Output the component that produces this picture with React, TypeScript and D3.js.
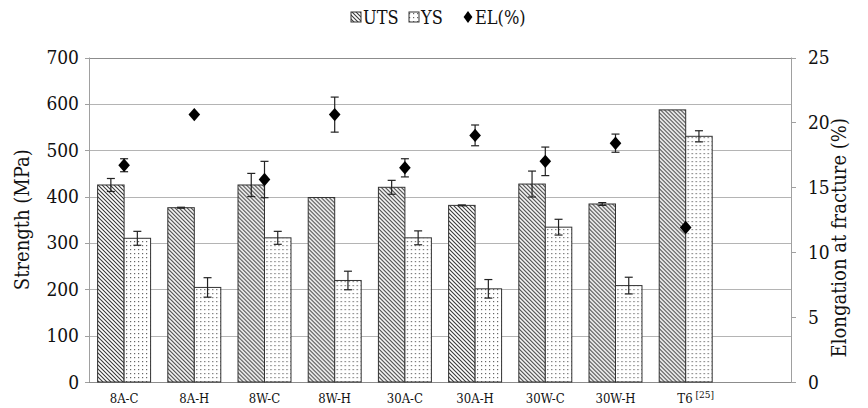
import React, { useEffect, useRef } from 'react';
import * as d3 from 'd3';

const categories = ['8A-C', '8A-H', '8W-C', '8W-H', '30A-C', '30A-H', '30W-C', '30W-H', 'T6'];
const utsValues = [425, 376, 425, 398, 420, 381, 427, 384, 587];
const utsErr = [14, 1, 25, 0, 15, 1, 28, 3, 0];
const ysValues = [310, 204, 311, 219, 311, 201, 334, 208, 530];
const ysErr = [15, 21, 14, 20, 15, 20, 17, 18, 12];
const elValues = [16.7, 20.6, 15.6, 20.6, 16.5, 19.0, 17.0, 18.4, 11.9];
const elErr = [0.5, 0, 1.4, 1.35, 0.7, 0.8, 1.1, 0.7, 0];
const leftTicks = [0, 100, 200, 300, 400, 500, 600, 700];
const rightTicks = [0, 5, 10, 15, 20, 25];

function App() {
  const svgRef = useRef(null);

  const width = 868;
  const height = 408;
  const left = 89;
  const right = 791;
  const top = 57.5;
  const bottom = 382;

  useEffect(() => {
    const svg = d3.select(svgRef.current);
    svg.selectAll('*').remove();

    const defs = svg.append('defs');
    const hatch = defs.append('pattern')
      .attr('id', 'hatch')
      .attr('patternUnits', 'userSpaceOnUse')
      .attr('width', 4)
      .attr('height', 4);
    hatch.append('rect').attr('width', 4).attr('height', 4).attr('fill', '#fff');
    hatch.append('path')
      .attr('d', 'M-1,-1 L5,5 M-1,3 L1,5 M3,-1 L5,1')
      .attr('stroke', '#3a3a3a')
      .attr('stroke-width', 1.1);

    const dots = defs.append('pattern')
      .attr('id', 'dots')
      .attr('patternUnits', 'userSpaceOnUse')
      .attr('width', 4)
      .attr('height', 4);
    dots.append('rect').attr('width', 4).attr('height', 4).attr('fill', '#fff');
    dots.append('rect').attr('x', 1).attr('y', 1).attr('width', 1.2).attr('height', 1.2).attr('fill', '#666');

    // slot for an empty tenth category, like the original
    const x = d3.scaleBand()
      .domain([...categories, ''])
      .range([left, right])
      .paddingInner(0)
      .paddingOuter(0);
    const xSub = d3.scaleBand()
      .domain(['UTS', 'YS'])
      .range([0, x.bandwidth()])
      .paddingInner(0)
      .paddingOuter(0.325);

    const y = d3.scaleLinear().domain([0, 700]).range([bottom, top]);
    const y2 = d3.scaleLinear().domain([0, 25]).range([bottom, top]);

    // gridlines
    svg.append('g')
      .selectAll('line')
      .data(leftTicks)
      .enter()
      .append('line')
      .attr('x1', left)
      .attr('x2', right)
      .attr('y1', d => Math.round(y(d)) + 0.5)
      .attr('y2', d => Math.round(y(d)) + 0.5)
      .attr('stroke', d => (d === 700 ? '#8c8c8c' : '#b4b4b4'))
      .attr('stroke-width', 1);

    // axes
    const axisColor = '#a0a0a0';
    svg.append('line')
      .attr('x1', left + 0.5).attr('x2', left + 0.5)
      .attr('y1', top).attr('y2', bottom)
      .attr('stroke', axisColor);
    svg.append('line')
      .attr('x1', right + 0.5).attr('x2', right + 0.5)
      .attr('y1', top).attr('y2', bottom)
      .attr('stroke', axisColor);
    svg.append('line')
      .attr('x1', left).attr('x2', right)
      .attr('y1', Math.round(bottom) + 0.5).attr('y2', Math.round(bottom) + 0.5)
      .attr('stroke', '#8c8c8c');

    svg.append('g')
      .selectAll('line')
      .data(leftTicks)
      .enter()
      .append('line')
      .attr('x1', left - 4)
      .attr('x2', left)
      .attr('y1', d => Math.round(y(d)) + 0.5)
      .attr('y2', d => Math.round(y(d)) + 0.5)
      .attr('stroke', axisColor);
    svg.append('g')
      .selectAll('line')
      .data(rightTicks)
      .enter()
      .append('line')
      .attr('x1', right)
      .attr('x2', right + 5)
      .attr('y1', d => Math.round(y2(d)) + 0.5)
      .attr('y2', d => Math.round(y2(d)) + 0.5)
      .attr('stroke', axisColor);

    // Liberation Serif / Times are not available here, DejaVu Serif is
    const font = "'DejaVu Serif Condensed', 'DejaVu Serif'";

    svg.append('g')
      .selectAll('text')
      .data(leftTicks)
      .enter()
      .append('text')
      .attr('x', 79)
      .attr('y', d => y(d) + 6.5)
      .attr('text-anchor', 'end')
      .attr('font-family', font)
      .attr('font-size', 19)
      .attr('fill', '#111')
      .text(d => d);

    svg.append('g')
      .selectAll('text')
      .data(rightTicks)
      .enter()
      .append('text')
      .attr('x', 808)
      .attr('y', d => y2(d) + 6.5)
      .attr('text-anchor', 'start')
      .attr('font-family', font)
      .attr('font-size', 19)
      .attr('fill', '#111')
      .text(d => d);

    // x labels
    const xl = svg.append('g')
      .selectAll('text')
      .data(categories)
      .enter()
      .append('text')
      .attr('x', d => x(d) + x.bandwidth() / 2)
      .attr('y', 403)
      .attr('text-anchor', 'middle')
      .attr('font-family', font)
      .attr('font-size', 13)
      .attr('fill', '#111');
    xl.append('tspan').text(d => d);
    xl.filter(d => d === 'T6')
      .append('tspan')
      .attr('dx', 3)
      .attr('dy', -5)
      .attr('font-size', 10)
      .text('[25]');
    xl.filter(d => d === 'T6').attr('x', d => x(d) + x.bandwidth() / 2 + 10);

    // axis titles
    svg.append('text')
      .attr('transform', `translate(29,${(top + bottom) / 2}) rotate(-90)`)
      .attr('text-anchor', 'middle')
      .attr('font-family', font)
      .attr('font-size', 20)
      .attr('fill', '#111')
      .text('Strength (MPa)');
    svg.append('text')
      .attr('transform', `translate(846,${(top + bottom) / 2 + 18}) rotate(-90)`)
      .attr('text-anchor', 'middle')
      .attr('font-family', font)
      .attr('font-size', 20)
      .attr('fill', '#111')
      .text('Elongation at fracture (%)');

    // bars
    const groups = svg.append('g')
      .selectAll('g')
      .data(categories)
      .enter()
      .append('g')
      .attr('transform', d => `translate(${x(d)},0)`);

    groups.append('rect')
      .attr('x', xSub('UTS'))
      .attr('y', (d, i) => y(utsValues[i]))
      .attr('width', xSub.bandwidth())
      .attr('height', (d, i) => y(0) - y(utsValues[i]))
      .attr('fill', 'url(#hatch)')
      .attr('stroke', '#333')
      .attr('stroke-width', 1);

    groups.append('rect')
      .attr('x', xSub('YS'))
      .attr('y', (d, i) => y(ysValues[i]))
      .attr('width', xSub.bandwidth())
      .attr('height', (d, i) => y(0) - y(ysValues[i]))
      .attr('fill', 'url(#dots)')
      .attr('stroke', '#333')
      .attr('stroke-width', 1);

    const errBar = (g, cx, v, e, scale) => {
      if (e <= 0) return;
      const y1 = scale(v - e);
      const y0 = scale(v + e);
      g.append('line').attr('x1', cx).attr('x2', cx).attr('y1', y0).attr('y2', y1)
        .attr('stroke', '#222').attr('stroke-width', 1.2);
      g.append('line').attr('x1', cx - 4).attr('x2', cx + 4).attr('y1', y0).attr('y2', y0)
        .attr('stroke', '#222').attr('stroke-width', 1.2);
      g.append('line').attr('x1', cx - 4).attr('x2', cx + 4).attr('y1', y1).attr('y2', y1)
        .attr('stroke', '#222').attr('stroke-width', 1.2);
    };

    groups.each(function (d, i) {
      const g = d3.select(this);
      errBar(g, xSub('UTS') + xSub.bandwidth() / 2, utsValues[i], utsErr[i], y);
      errBar(g, xSub('YS') + xSub.bandwidth() / 2, ysValues[i], ysErr[i], y);
    });

    // elongation points
    const diamond = d3.symbol().type(d3.symbolDiamond).size(52);
    groups.each(function (d, i) {
      const g = d3.select(this);
      const cx = x.bandwidth() / 2;
      errBar(g, cx, elValues[i], elErr[i], y2);
      g.append('path')
        .attr('d', diamond())
        .attr('transform', `translate(${cx},${y2(elValues[i])}) scale(1.5,1)`)
        .attr('fill', '#000');
    });

    // legend
    const lg = svg.append('g').attr('font-family', font);
    lg.append('rect').attr('x', 351).attr('y', 12).attr('width', 10).attr('height', 10)
      .attr('fill', 'url(#hatch)').attr('stroke', '#333');
    lg.append('text').attr('x', 363).attr('y', 24)
      .attr('font-size', 18).attr('fill', '#111').text('UTS');
    lg.append('rect').attr('x', 409).attr('y', 12).attr('width', 10).attr('height', 10)
      .attr('fill', 'url(#dots)').attr('stroke', '#333');
    lg.append('text').attr('x', 421).attr('y', 24)
      .attr('font-size', 18).attr('fill', '#111').text('YS');
    lg.append('path')
      .attr('d', d3.symbol().type(d3.symbolDiamond).size(40)())
      .attr('transform', 'translate(468,17) scale(1.3,1)')
      .attr('fill', '#000');
    lg.append('text').attr('x', 475).attr('y', 24)
      .attr('font-size', 18).attr('fill', '#111').text('EL(%)');
  }, []);

  return (
    <svg
      ref={svgRef}
      width={width}
      height={height}
      style={{ position: 'absolute', left: 0, top: 0, background: '#fff' }}
    ></svg>
  );
}

export default App;
